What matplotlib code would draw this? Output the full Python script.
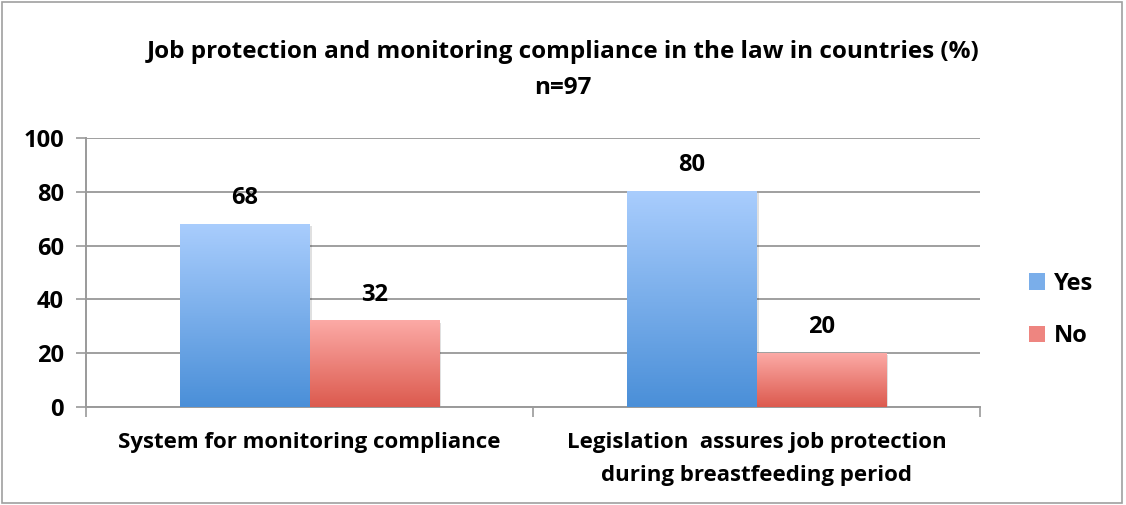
import numpy as np
import matplotlib
matplotlib.use("Agg")
import matplotlib.pyplot as plt
from matplotlib.colors import LinearSegmentedColormap
from matplotlib.patches import Patch, Rectangle

plt.rcParams['font.family'] = ['Open Sans', 'DejaVu Sans']
plt.rcParams['font.weight'] = 'bold'

# Daten
categories = ['System for monitoring compliance',
              'Legislation  assures job protection\nduring breastfeeding period']
yes_values = [68, 80]
no_values = [32, 20]
series_names = ['Yes', 'No']
title_lines = ['Job protection and monitoring compliance in the law in countries (%)', 'n=97']

# Farbverlaeufe (unten -> oben)
blue_grad = LinearSegmentedColormap.from_list('blue', ['#4a8fd8', '#a9cdfd'])
red_grad = LinearSegmentedColormap.from_list('red', ['#dc5a4e', '#fcaaa6'])

fig = plt.figure(figsize=(11.26, 5.05), dpi=100)
ax = fig.add_axes([86 / 1126, 1 - 407 / 505, (980 - 86) / 1126, (407 - 138) / 505])

x = np.arange(len(categories))
w = 0.289
bars_yes = ax.bar(x - w / 2, yes_values, w, color='none', label=series_names[0])
bars_no = ax.bar(x + w / 2, no_values, w, color='none', label=series_names[1])

grad = np.linspace(0, 1, 256).reshape(-1, 1)
for bars, cmap in [(bars_yes, blue_grad), (bars_no, red_grad)]:
    for b in bars:
        x0, h = b.get_x(), b.get_height()
        # leichter Schatten
        ax.add_patch(Rectangle((x0 + 0.006, -0.6), b.get_width(), h, color='#000000',
                               alpha=0.12, zorder=2, lw=0))
        ax.imshow(grad, cmap=cmap, origin='lower', aspect='auto',
                  extent=[x0, x0 + b.get_width(), 0, h], zorder=3)
        ax.text(b.get_x() + b.get_width() / 2, h + 9.8, f'{h:.0f}', ha='center',
                va='center', fontsize=17, fontweight='bold', zorder=4)

ax.set_xlim(-0.5, 1.5)
ax.set_ylim(0, 100)
ax.set_yticks(range(0, 101, 20))
ax.set_xticks([-0.5, 0.5, 1.5], minor=False)
ax.set_xticklabels([])
ax.set_xticks(x, minor=True)
ax.set_xticklabels(categories, minor=True, fontsize=16, fontweight='bold', linespacing=1.75)
ax.tick_params(axis='x', which='minor', length=0, pad=18)
ax.tick_params(axis='x', which='major', length=7, color='#9a9a9a', width=1.2, direction='out')
ax.tick_params(axis='y', length=7, color='#9a9a9a', width=1.2, labelsize=17, pad=9)
for lab in ax.get_yticklabels():
    lab.set_fontweight('bold')

ax.grid(axis='y', color='#9f9f9f', linewidth=1.4, zorder=0)
ax.set_axisbelow(True)
for s in ['top', 'right']:
    ax.spines[s].set_visible(False)
for s in ['left', 'bottom']:
    ax.spines[s].set_color('#9a9a9a')
    ax.spines[s].set_linewidth(1.4)

handles = [Patch(facecolor='#7aaeea', label=series_names[0]),
           Patch(facecolor='#ee8580', label=series_names[1])]
fig.legend(handles=handles, loc='center left', bbox_to_anchor=(1008 / 1126, 1 - 310 / 505),
           frameon=False, handlelength=0.68, handleheight=0.68,
           labelspacing=1.2, handletextpad=0.35, prop={'weight': 'bold', 'size': 17})

# Titel in zwei Zeilen
fig.text(563 / 1126, 1 - 52 / 505, title_lines[0], ha='center', va='center', fontsize=17.5,
         fontweight='bold')
fig.text(563 / 1126, 1 - 88 / 505, title_lines[1], ha='center', va='center', fontsize=17.5,
         fontweight='bold')

# Rahmen um das Diagramm
fig.patches.append(Rectangle((2 / 1126, 2 / 505), 1120 / 1126, 501 / 505, transform=fig.transFigure,
                             fill=False, edgecolor='#a0a0a0', linewidth=1.2))

fig.savefig('out.png', dpi=100)
